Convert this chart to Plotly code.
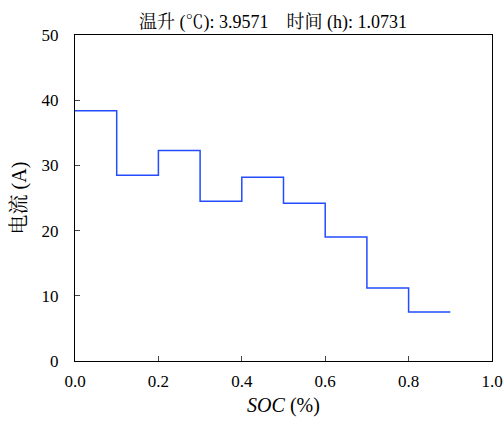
import plotly.graph_objects as go

soc_edges = [0.0, 0.1, 0.2, 0.3, 0.4, 0.5, 0.6, 0.7, 0.8, 0.9]
current = [38.4, 28.5, 32.3, 24.5, 28.2, 24.2, 19.0, 11.2, 7.5]

x = soc_edges
y = current + [current[-1]]

font_family = "'Liberation Serif', 'Noto Serif CJK SC', 'Noto Sans CJK SC', serif"

fig = go.Figure()
fig.add_trace(go.Scatter(x=x, y=y, mode="lines", line=dict(shape="hv", color="rgb(35,75,255)", width=1.5),
                         showlegend=False))

fig.update_layout(
    width=503, height=424,
    margin=dict(l=75, r=11, t=35, b=63),
    paper_bgcolor="white", plot_bgcolor="white",
    font=dict(family=font_family, size=17, color="black"),
    title=dict(text="温升 (℃): 3.9571 &nbsp;&nbsp;&nbsp;时间 (h): 1.0731", x=0.475, xref="paper", xanchor="center",
               y=1, yref="paper", yanchor="bottom", pad=dict(b=7), font=dict(size=18)),
)
fig.update_xaxes(range=[0, 1], tickvals=[0, 0.2, 0.4, 0.6, 0.8, 1.0], ticktext=["0.0", "0.2", "0.4", "0.6", "0.8", "1.0"],
                 ticks="inside", ticklen=5, showline=True, linecolor="black", linewidth=1, mirror=True,
                 showgrid=False, zeroline=False, ticklabelstandoff=5, automargin=False,
                 title=dict(text="<i>SOC</i> (%)", standoff=7))
fig.update_yaxes(range=[0, 50], tickvals=[0, 10, 20, 30, 40, 50],
                 ticks="inside", ticklen=5, showline=True, linecolor="black", linewidth=1, mirror=True,
                 showgrid=False, zeroline=False, ticklabelstandoff=12, automargin=False,
                 title=dict(text="电流 (A)", standoff=9))

fig.write_html("out.html", config={"displayModeBar": False},
               post_script="document.body.style.margin='0px';document.body.style.overflow='hidden';")
